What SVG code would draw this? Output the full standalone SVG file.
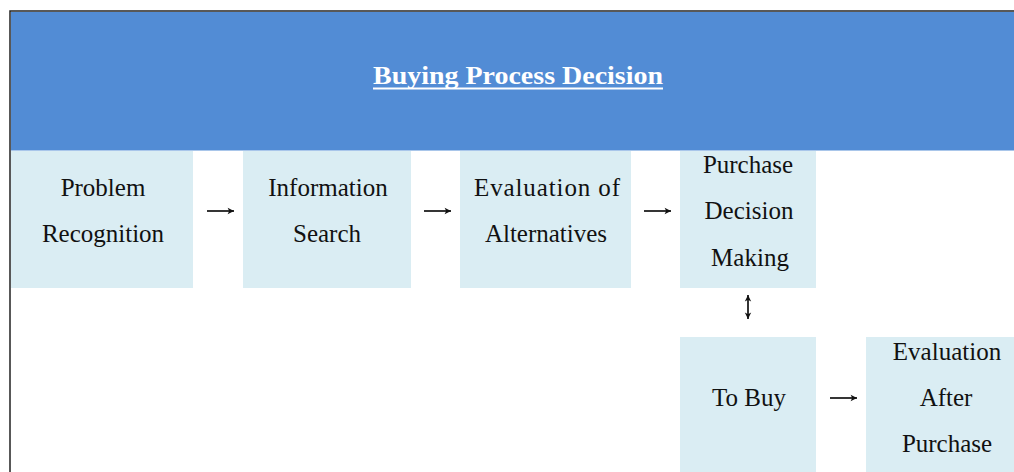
<svg xmlns="http://www.w3.org/2000/svg" width="1014" height="472" viewBox="0 0 1014 472">
  <defs>
    <style>
      .hdr { fill: #528cd5; }
      .box { fill: #daedf3; }
      .t { font-family: "Liberation Serif", "Times New Roman", serif; font-size: 25px; fill: #111; text-anchor: middle; }
      .title { font-family: "Liberation Serif", "Times New Roman", serif; font-size: 25px; font-weight: bold; fill: #ffffff; text-anchor: middle; }
      .conn { stroke: #111; stroke-width: 1.7; fill: none; }
    </style>
    <marker id="ah" viewBox="0 0 10 10" refX="9" refY="5" markerWidth="8" markerHeight="8" orient="auto-start-reverse" markerUnits="userSpaceOnUse">
      <path d="M1,1 L9,5 L1,9 L3,5 Z" fill="#111"/>
    </marker>
  </defs>
  <rect x="0" y="0" width="1014" height="472" fill="#ffffff"/>
  <rect x="10" y="11" width="1020" height="480" fill="#ffffff" stroke="#222" stroke-width="1.5"/>

  <g id="header">
    <rect class="hdr" x="11" y="12" width="1003" height="138"/>
    <line x1="11" y1="150.5" x2="1014" y2="150.5" stroke="#a9c6ea" stroke-width="1"/>
    <text class="title" x="518" y="84" textLength="290" lengthAdjust="spacingAndGlyphs">Buying Process Decision</text>
    <line x1="373" y1="88.5" x2="663" y2="88.5" stroke="#ffffff" stroke-width="1.8"/>
  </g>

  <g id="problem-recognition">
    <rect class="box" x="11" y="151" width="182" height="137"/>
    <text class="t" x="103" y="196">Problem</text>
    <text class="t" x="103" y="242">Recognition</text>
  </g>

  <g id="information-search">
    <rect class="box" x="243" y="151" width="168" height="137"/>
    <text class="t" x="328" y="196">Information</text>
    <text class="t" x="327" y="242">Search</text>
  </g>

  <g id="evaluation-alternatives">
    <rect class="box" x="460" y="151" width="171" height="137"/>
    <text class="t" x="547" y="196" textLength="146" lengthAdjust="spacing">Evaluation  of</text>
    <text class="t" x="546" y="242">Alternatives</text>
  </g>

  <g id="purchase-decision">
    <rect class="box" x="680" y="151" width="136" height="137"/>
    <text class="t" x="748" y="173">Purchase</text>
    <text class="t" x="749" y="219">Decision</text>
    <text class="t" x="750" y="266">Making</text>
  </g>

  <g id="to-buy">
    <rect class="box" x="680" y="337" width="136" height="140"/>
    <text class="t" x="749" y="406">To Buy</text>
  </g>

  <g id="evaluation-after">
    <rect class="box" x="866" y="337" width="160" height="140"/>
    <text class="t" x="947" y="360">Evaluation</text>
    <text class="t" x="946" y="406">After</text>
    <text class="t" x="947" y="452">Purchase</text>
  </g>

  <g id="connectors">
    <line class="conn" x1="207" y1="211" x2="234" y2="211" marker-end="url(#ah)"/>
    <line class="conn" x1="424" y1="211" x2="451" y2="211" marker-end="url(#ah)"/>
    <line class="conn" x1="644" y1="211" x2="671" y2="211" marker-end="url(#ah)"/>
    <line class="conn" x1="830" y1="398" x2="857" y2="398" marker-end="url(#ah)"/>
    <line class="conn" x1="748" y1="295" x2="748" y2="319" marker-start="url(#ah)" marker-end="url(#ah)"/>
  </g>
</svg>
